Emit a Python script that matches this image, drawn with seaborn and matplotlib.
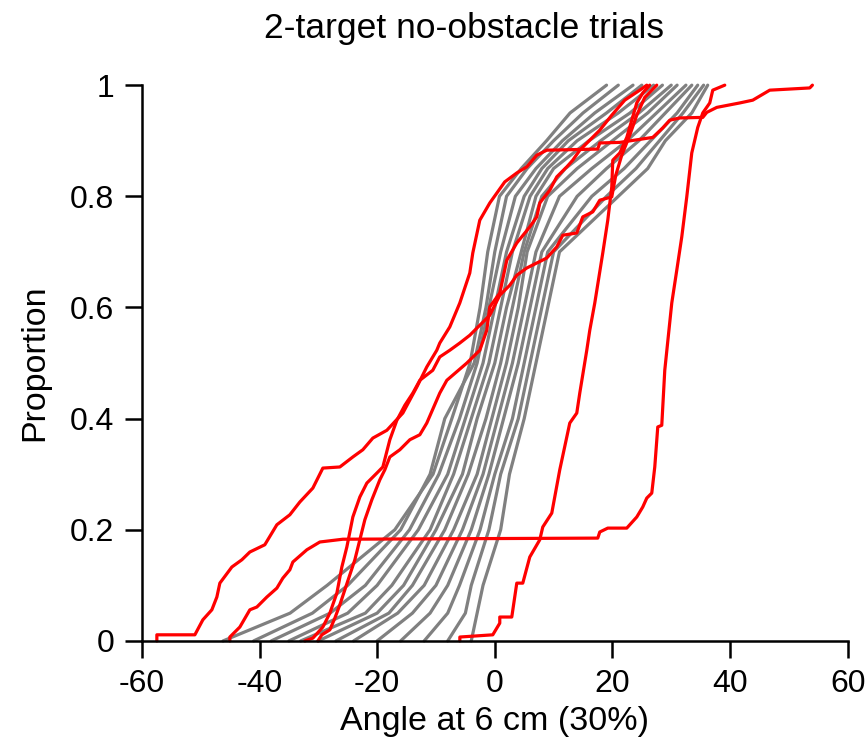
import pandas as pd
import seaborn as sns
import matplotlib.pyplot as plt

# Proportion levels used to read the gray curves off the chart
gray_levels = [0, 0.05, 0.1, 0.2, 0.3, 0.4, 0.5, 0.6, 0.7, 0.8, 0.85, 0.9, 0.95, 1.0]

# Angle (deg) at each proportion level, one list per gray curve
gray_angles = [
    [-46.2, -34.8, -28.5, -17.0, -10.5, -7.3, -4.2, -2.5, -1.2, 0.8, 4.5, 8.8, 12.8, 19.0],
    [-41.0, -31.0, -25.0, -16.0, -11.0, -8.5, -3.5, -1.5, 0.0, 2.0, 5.5, 10.0, 15.0, 21.0],
    [-38.0, -28.0, -22.0, -14.5, -9.5, -6.0, -3.0, -1.0, 1.0, 3.5, 7.0, 11.5, 17.0, 23.5],
    [-35.0, -25.0, -20.0, -13.0, -8.0, -5.0, -2.0, 0.0, 2.0, 5.0, 8.0, 12.5, 19.0, 25.0],
    [-33.0, -22.0, -17.5, -11.0, -7.0, -4.0, -1.0, 1.0, 3.0, 6.0, 9.0, 14.0, 21.0, 27.0],
    [-30.0, -20.0, -15.5, -10.0, -5.5, -3.0, 0.0, 2.0, 4.5, 7.0, 10.0, 16.0, 23.0, 28.5],
    [-27.0, -18.0, -14.0, -8.5, -4.5, -1.5, 1.0, 3.0, 5.0, 8.0, 12.0, 18.0, 24.5, 30.0],
    [-24.0, -16.5, -12.0, -7.0, -3.0, -0.5, 2.0, 4.0, 5.5, 9.0, 14.0, 20.0, 26.0, 31.0],
    [-20.0, -14.0, -10.0, -5.5, -2.0, 0.5, 3.0, 5.0, 7.0, 11.0, 16.5, 22.5, 27.5, 32.5],
    [-16.0, -11.0, -8.0, -4.0, -1.0, 1.5, 4.0, 6.0, 8.0, 14.0, 19.0, 24.5, 29.0, 33.5],
    [-12.0, -8.0, -6.0, -2.5, 0.0, 3.0, 5.0, 7.0, 9.0, 16.5, 22.0, 26.5, 31.0, 34.5],
    [-8.0, -5.0, -4.0, -1.0, 1.0, 4.0, 6.0, 8.0, 10.0, 19.0, 24.0, 28.0, 32.0, 35.5],
    [-4.0, -3.0, -2.0, 1.0, 2.5, 5.0, 7.0, 9.0, 11.0, 21.0, 26.0, 29.0, 33.5, 36.2],
]

# Red curves: corner points (angle, proportion)
red_a_x = [-57.45, -57.45, -50.99, -49.63, -48.1, -47.25, -46.74, -44.7, -43.0, -41.64,
           -39.1, -37.05, -34.84, -33.14, -30.93, -29.23, -26.34, -24.13, -22.43, -20.73,
           -18.35, -15.63, -13.25, -11.56, -9.86, -9.35, -7.65, -5.95, -4.25, -3.74,
           -2.55, -0.85, 1.7, 3.74, 5.44, 7.14, 8.84, 17.5, 17.85, 21.25, 26.86, 28.56,
           29.75, 31.45, 35.36, 36.04, 37.74, 41.65, 43.86, 46.75, 53.55, 54.0]
red_a_y = [0, 0.011, 0.011, 0.038, 0.056, 0.079, 0.104, 0.133, 0.146, 0.16,
           0.173, 0.209, 0.227, 0.25, 0.275, 0.311, 0.313, 0.331, 0.344, 0.365,
           0.379, 0.41, 0.457, 0.493, 0.523, 0.536, 0.565, 0.608, 0.662, 0.698,
           0.757, 0.788, 0.826, 0.842, 0.853, 0.874, 0.883, 0.885, 0.896, 0.897, 0.906, 0.923,
           0.937, 0.941, 0.942, 0.951, 0.96, 0.968, 0.973, 0.991, 0.995, 1.0]

red_b_x = [-45.04, -45.04, -43.34, -41.64, -40.45, -38.75, -37.05, -36.03, -34.84, -34.33,
           -31.95, -29.74, -25.83, 17.51, 17.85, 19.21, 22.44, 24.14, 25.16, 25.84,
           26.69, 27.2, 27.71, 28.39, 28.9, 30.09, 30.94, 31.79, 32.64, 33.49,
           34.51, 35.36, 36.55, 37.06, 39.1]
red_b_y = [0, 0.007, 0.025, 0.056, 0.061, 0.079, 0.095, 0.113, 0.128, 0.142,
           0.164, 0.178, 0.183, 0.185, 0.196, 0.203, 0.203, 0.223, 0.241, 0.257,
           0.266, 0.313, 0.385, 0.388, 0.487, 0.608, 0.667, 0.727, 0.799, 0.878,
           0.924, 0.95, 0.968, 0.991, 1.0]

red_c_x = [-32.29, -30.93, -29.23, -28.04, -26.85, -26.0, -25.15, -24.13, -22.94, -21.75,
           -20.05, -19.03, -17.84, -16.65, -15.29, -13.93, -12.74, -10.54, -9.35, -7.65,
           -5.95, -4.25, -2.55, -0.85, 0.85, 2.55, 3.74, 5.44, 7.14, 8.84,
           10.54, 11.56, 13.94, 14.96, 16.66, 17.85, 19.89, 20.57, 21.59, 22.95,
           24.14, 25.5, 27.54]
red_c_y = [0, 0.005, 0.025, 0.05, 0.086, 0.133, 0.169, 0.223, 0.259, 0.284,
           0.302, 0.313, 0.362, 0.397, 0.424, 0.446, 0.469, 0.487, 0.511, 0.523,
           0.536, 0.55, 0.568, 0.586, 0.622, 0.64, 0.658, 0.671, 0.68, 0.689,
           0.709, 0.73, 0.734, 0.763, 0.772, 0.793, 0.799, 0.838, 0.874, 0.91,
           0.946, 0.978, 1.0]

red_d_x = [-30.08, -29.4, -28.04, -27.19, -26.34, -25.49, -24.64, -23.79, -22.94, -22.09,
           -20.9, -19.54, -18.69, -17.84, -16.14, -14.44, -12.74, -11.56, -9.35, -8.15,
           -4.75, -2.55, -1.36, -0.85, 0.85, 2.04, 3.74, 5.95, 7.14, 7.65,
           9.35, 10.54, 12.24, 13.26, 14.45, 16.15, 17.85, 19.89, 22.1, 24.65, 25.84]
red_d_y = [0, 0.011, 0.02, 0.041, 0.065, 0.092, 0.119, 0.146, 0.182, 0.218,
           0.254, 0.29, 0.308, 0.331, 0.344, 0.362, 0.371, 0.392, 0.446, 0.469,
           0.5, 0.523, 0.559, 0.601, 0.626, 0.685, 0.716, 0.745, 0.763, 0.788,
           0.811, 0.835, 0.853, 0.865, 0.883, 0.901, 0.919, 0.946, 0.973, 0.991, 1.0]

red_e_x = [-5.94, -5.94, -0.34, 0.85, 0.85, 2.89, 3.74, 4.76, 5.95, 7.65,
           8.16, 9.69, 11.05, 12.75, 13.94, 14.45, 15.64, 16.15, 17.0, 18.36,
           19.21, 19.89, 20.06, 21.25, 22.44, 23.29, 24.14, 25.16, 26.35]
red_e_y = [0, 0.007, 0.011, 0.032, 0.043, 0.043, 0.104, 0.104, 0.151, 0.182,
           0.205, 0.23, 0.308, 0.392, 0.41, 0.446, 0.523, 0.559, 0.608, 0.698,
           0.757, 0.817, 0.865, 0.878, 0.906, 0.937, 0.968, 0.986, 1.0]

red_curves = [(red_a_x, red_a_y), (red_b_x, red_b_y), (red_c_x, red_c_y),
              (red_d_x, red_d_y), (red_e_x, red_e_y)]

# Build one long table for seaborn
rows = []
for i, angles in enumerate(gray_angles):
    for a, p in zip(angles, gray_levels):
        rows.append({"angle": a, "proportion": p, "curve": f"g{i}", "group": "gray"})
for i, (xs, ys) in enumerate(red_curves):
    for a, p in zip(xs, ys):
        rows.append({"angle": a, "proportion": p, "curve": f"r{i}", "group": "red"})
df = pd.DataFrame(rows)

sns.set_style("ticks")
plt.rcParams['font.family'] = ['Liberation Sans', 'DejaVu Sans']
plt.rcParams['text.color'] = 'black'
plt.rcParams['axes.labelcolor'] = 'black'

fig = plt.figure(figsize=(8.65, 7.47), dpi=100)
ax = fig.add_axes([0.164, 0.142, 0.816, 0.744])

sns.lineplot(data=df, x="angle", y="proportion", units="curve", estimator=None,
             hue="group", hue_order=["gray", "red"],
             palette={"gray": "#808080", "red": "#ff0000"},
             sort=False, legend=False, linewidth=2.3, ax=ax)
for line in ax.lines:
    line.set_clip_on(False)

ax.set_xlim(-60, 60)
ax.set_ylim(0, 1)
ax.set_xticks([-60, -40, -20, 0, 20, 40, 60])
ax.set_xticklabels(["-60", "-40", "-20", "0", "20", "40", "60"])
ax.set_yticks([0, 0.2, 0.4, 0.6, 0.8, 1.0])
ax.set_yticklabels(["0", "0.2", "0.4", "0.6", "0.8", "1"])
ax.tick_params(axis="both", direction="out", length=12, width=1.8, labelsize=23,
               pad=8, color="black", labelcolor="black")

sns.despine(ax=ax)
for side in ["left", "bottom"]:
    ax.spines[side].set_linewidth(1.8)
    ax.spines[side].set_color("black")

ax.set_xlabel("Angle at 6 cm (30%)", fontsize=24.5, labelpad=5)
ax.set_ylabel("Proportion", fontsize=24.5, labelpad=14)
ax.set_title("2-target no-obstacle trials", fontsize=25.5, x=0.457, pad=34)

fig.savefig("out.png", dpi=100)
